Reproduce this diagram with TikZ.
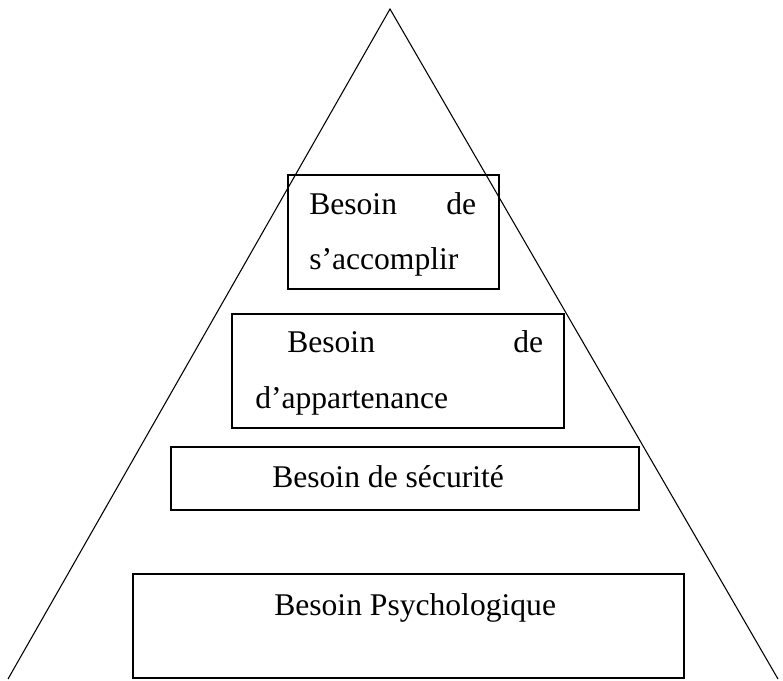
\documentclass[tikz,border=0pt]{standalone}
\usepackage{fontspec}
\setmainfont{Liberation Serif}
\newcommand{\taille}{\fontsize{23.7}{28}\selectfont}

\tikzset{
  niveau/.style={draw=black, line width=1pt},
  etiquette/.style={inner sep=0pt, font=\taille}
}

\begin{document}
\begin{tikzpicture}[x=0.75pt, y=-0.75pt]
  \useasboundingbox (0,0) rectangle (783,681);
  % la pyramide
  \draw[black, line width=0.8pt] (8,679) -- (390,9) -- (778,679);
  % les niveaux
  \draw[niveau] (288,175) rectangle (499,289);
  \draw[niveau] (232,314) rectangle (564,428);
  \draw[niveau] (171,447) rectangle (639,510);
  \draw[niveau] (133,574) rectangle (684,678);
  % les textes
  \node[etiquette, anchor=base west] (accomplirA) at (309,215) {\makebox[125.25pt][s]{Besoin de}};
  \node[etiquette, anchor=base west] (accomplirB) at (309,270) {s’accomplir};
  \node[etiquette, anchor=base west] (appartenanceA) at (287,353) {\makebox[192pt][s]{Besoin de}};
  \node[etiquette, anchor=base west] (appartenanceB) at (255,408) {d’appartenance};
  \node[etiquette, anchor=base west] (securite) at (272,488) {Besoin de sécurité};
  \node[etiquette, anchor=base west] (psycho) at (274,615) {Besoin Psychologique};
\end{tikzpicture}
\end{document}
